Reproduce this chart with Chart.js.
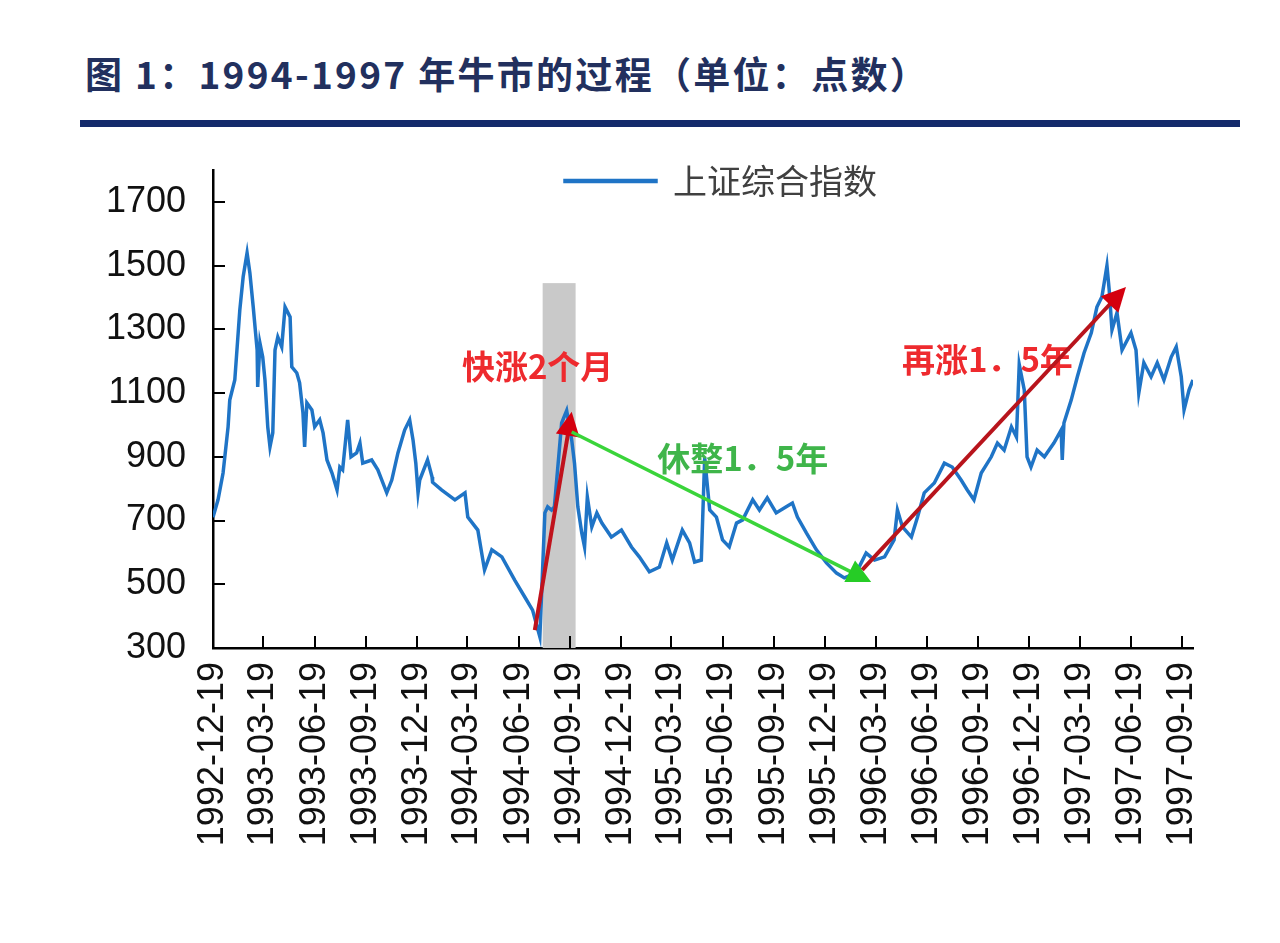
<!DOCTYPE html>
<html><head><meta charset="utf-8">
<script src="https://cdn.jsdelivr.net/npm/chart.js@4.4.1/dist/chart.umd.min.js"></script>
<style>
html,body{margin:0;padding:0;background:#fff;width:1280px;height:943px;overflow:hidden;}
#title{position:absolute;left:85px;top:55px;font-family:"Noto Sans CJK SC",sans-serif;font-weight:700;font-size:37px;letter-spacing:2.3px;color:#22305e;white-space:nowrap;line-height:1;}
#rule{position:absolute;left:80px;width:1160px;top:120px;height:7px;background:#142a6b;}
#wrap{position:absolute;left:0;top:116px;width:1280px;height:827px;}
</style></head><body>
<div id="title">图 1：1994-1997 年牛市的过程（单位：点数）</div>
<div id="rule"></div>
<div id="wrap"><canvas id="c"></canvas></div>
<script>
const seriesName = '上证综合指数';
const dates = ['1992-12-19','1992-12-28','1993-01-06','1993-01-15','1993-01-18','1993-01-27','1993-02-05','1993-02-11','1993-02-18','1993-02-23',
'1993-03-01','1993-03-08','1993-03-09','1993-03-13','1993-03-18','1993-03-22','1993-03-27','1993-03-31','1993-04-05','1993-04-09',
'1993-04-14','1993-04-21','1993-04-27','1993-05-06','1993-05-09','1993-05-18','1993-05-23','1993-05-29','1993-06-01','1993-06-05',
'1993-06-14','1993-06-19','1993-06-28','1993-07-04','1993-07-11','1993-07-20','1993-07-29','1993-08-03','1993-08-08','1993-08-17',
'1993-08-23','1993-09-02','1993-09-08','1993-09-13','1993-09-29','1993-10-10','1993-10-26','1993-11-04','1993-11-15','1993-11-27',
'1993-12-06','1993-12-12','1993-12-17','1993-12-21','1993-12-24','1994-01-07','1994-01-15','1994-01-16','1994-02-01','1994-02-25',
'1994-03-15','1994-03-20','1994-04-07','1994-04-19','1994-05-02','1994-05-20','1994-06-12','1994-06-30','1994-07-14','1994-07-27',
'1994-08-05','1994-08-10','1994-08-17','1994-08-22','1994-09-04','1994-09-13','1994-09-22','1994-09-27','1994-10-03','1994-10-10',
'1994-10-15','1994-10-20','1994-10-28','1994-11-06','1994-11-15','1994-12-02','1994-12-20','1995-01-07','1995-01-21','1995-02-08',
'1995-02-26','1995-03-11','1995-03-21','1995-04-08','1995-04-21','1995-04-30','1995-05-12','1995-05-18','1995-05-27','1995-06-08',
'1995-06-19','1995-07-01','1995-07-14','1995-07-25','1995-08-12','1995-08-24','1995-09-07','1995-09-23','1995-10-11','1995-10-22',
'1995-10-31','1995-11-16','1995-12-04','1995-12-22','1996-01-09','1996-01-23','1996-02-13','1996-03-02','1996-03-17','1996-04-04',
'1996-04-21','1996-04-27','1996-05-06','1996-05-22','1996-06-02','1996-06-14','1996-07-02','1996-07-20','1996-08-03','1996-08-19',
'1996-08-30','1996-09-11','1996-09-24','1996-10-12','1996-10-23','1996-11-04','1996-11-17','1996-11-26','1996-12-01','1996-12-10',
'1996-12-15','1996-12-22','1997-01-02','1997-01-15','1997-02-01','1997-02-14','1997-02-16','1997-02-19','1997-03-04','1997-03-15',
'1997-03-27','1997-04-09','1997-04-19','1997-04-28','1997-05-07','1997-05-11','1997-05-16','1997-05-25','1997-06-03','1997-06-19',
'1997-06-28','1997-07-03','1997-07-12','1997-07-25','1997-08-05','1997-08-17','1997-08-30','1997-09-08','1997-09-17','1997-09-22',
'1997-10-01','1997-10-08'];
const values = [710,765,849,994,1078,1141,1361,1465,1540,1477,
1370,1235,1119,1257,1213,1141,994,931,975,1235,
1276,1245,1370,1339,1182,1163,1132,1038,931,1069,
1047,994,1016,975,890,849,796,868,859,1016,
900,912,943,880,890,859,787,827,912,984,
1016,953,880,787,827,890,837,820,796,765,
787,711,670,545,608,586,513,460,419,335,
724,743,733,743,1006,1045,953,880,743,661,
617,774,680,724,692,648,670,617,586,539,
554,630,576,670,630,570,576,897,733,711,
639,617,692,702,765,733,771,724,743,755,
711,661,608,567,535,520,535,598,576,586,
639,733,680,648,711,787,818,880,868,827,
796,765,849,900,943,921,994,962,1190,1110,
900,868,921,900,943,984,890,1006,1078,1151,
1226,1289,1370,1402,1500,1424,1298,1352,1235,1289,
1235,1100,1195,1151,1195,1141,1213,1245,1151,1047,
1110,1141];
const xTickDates = ['1992-12-19','1993-03-19','1993-06-19','1993-09-19','1993-12-19','1994-03-19','1994-06-19','1994-09-19','1994-12-19','1995-03-19',
'1995-06-19','1995-09-19','1995-12-19','1996-03-19','1996-06-19','1996-09-19','1996-12-19','1997-03-19','1997-06-19','1997-09-19'];
const yTicks = [300,500,700,900,1100,1300,1500,1700];
const yRange = [300,1800];
const xRange = ['1992-12-19','1997-10-08'];
const bandDates = ['1994-08-01','1994-09-29'];
const bandTopValue = 1445;
const arrowStartDates = ['1994-07-18','1994-09-22','1996-02-24'];
const arrowStartValues = [356,978,545];
const arrowEndDates = ['1994-09-22','1996-03-11','1997-06-10'];
const arrowEndValues = [1041,507,1433];
const noteTexts = ['快涨2个月','休整1．5年','再涨1．5年'];
const noteDates = ['1994-07-23','1995-07-25','1996-10-05'];
const noteValues = [1182,896,1204];

const arrowStyles = [{shaft:'#c0121c',head:'#d4000f',w:4},{shaft:'#3ad43a',head:'#26cc26',w:3.5},{shaft:'#b8141c',head:'#d4000f',w:4}];
const noteColors = ['#ee2a2e','#3fb54a','#ee2a2e'];

const base = Date.UTC(1992,11,19);
function day(s){const p=s.split('-').map(Number);return (Date.UTC(p[0],p[1]-1,p[2])-base)/86400000;}

const points = dates.map((d,i)=>({x:day(d),y:values[i]}));

const decor = {
  id:'decor',
  afterLayout(chart){const l=chart.legend;if(l){l.left+=18;l.right+=18;l.top+=38;l.bottom+=38;}},
  beforeDatasetsDraw(chart){
    const {ctx,chartArea:a,scales:{x,y}}=chart;
    ctx.save();
    const x0=x.getPixelForValue(day(bandDates[0])),x1=x.getPixelForValue(day(bandDates[1]));
    const yt=y.getPixelForValue(bandTopValue);
    ctx.fillStyle='#c9c9c9';
    ctx.fillRect(x0,yt,x1-x0,a.bottom-yt);
    ctx.strokeStyle='#000';ctx.lineWidth=2;
    xTickDates.forEach((d,i)=>{if(i===0)return;const px=Math.round(x.getPixelForValue(day(d)));ctx.beginPath();ctx.moveTo(px,a.bottom);ctx.lineTo(px,a.bottom-12);ctx.stroke();});
    yTicks.forEach((v,i)=>{if(i===0)return;const py=Math.round(y.getPixelForValue(v));ctx.beginPath();ctx.moveTo(a.left,py);ctx.lineTo(a.left+12,py);ctx.stroke();});
    ctx.restore();
  },
  afterDatasetsDraw(chart){
    const {ctx,scales:{x,y}}=chart;
    ctx.save();
    ctx.font='bold 33px "Noto Sans CJK SC", sans-serif';
    ctx.textAlign='center';ctx.textBaseline='middle';
    noteTexts.forEach((t,i)=>{ctx.fillStyle=noteColors[i];ctx.fillText(t,x.getPixelForValue(day(noteDates[i])),y.getPixelForValue(noteValues[i]));});
    arrowStartDates.forEach((d,i)=>{
      const sx=x.getPixelForValue(day(d)),sy=y.getPixelForValue(arrowStartValues[i]);
      const tx=x.getPixelForValue(day(arrowEndDates[i])),ty=y.getPixelForValue(arrowEndValues[i]);
      const L=Math.hypot(tx-sx,ty-sy),ux=(tx-sx)/L,uy=(ty-sy)/L;
      const hl=24,hw=12,st=arrowStyles[i];
      ctx.strokeStyle=st.shaft;ctx.lineWidth=st.w;ctx.lineCap='butt';
      ctx.beginPath();ctx.moveTo(sx,sy);ctx.lineTo(tx-ux*hl*0.8,ty-uy*hl*0.8);ctx.stroke();
      const bx=tx-ux*hl,by=ty-uy*hl;
      ctx.fillStyle=st.head;ctx.beginPath();ctx.moveTo(tx,ty);ctx.lineTo(bx-uy*hw,by+ux*hw);ctx.lineTo(bx+uy*hw,by-ux*hw);ctx.closePath();ctx.fill();
    });
    ctx.restore();
  }
};

new Chart(document.getElementById('c'),{
  type:'line',
  data:{datasets:[{label:seriesName,data:points,borderColor:'#1f74c6',backgroundColor:'#1f74c6',borderWidth:3.5,pointRadius:0,tension:0,fill:false}]},
  options:{
    responsive:true,maintainAspectRatio:false,animation:false,events:[],
    layout:{padding:{left:73,right:87,top:0,bottom:0}},
    plugins:{
      legend:{display:true,position:'top',fullSize:false,align:'center',
        labels:{boxWidth:91,boxHeight:1,padding:10,color:'#404040',font:{family:'"Noto Sans CJK SC", sans-serif',size:34}}},
      tooltip:{enabled:false}
    },
    scales:{
      x:{type:'linear',min:day(xRange[0]),max:day(xRange[1]),
        grid:{display:false,drawTicks:false},
        border:{display:true,color:'#000',width:2.5},
        afterBuildTicks:s=>{s.ticks=xTickDates.map(d=>({value:day(d)}));},
        afterFit:s=>{s.height=295;},
        ticks:{autoSkip:false,minRotation:90,maxRotation:90,padding:14,color:'#111',
          font:{family:'"Liberation Sans", Arial, sans-serif',size:36},
          callback:(v,i)=>xTickDates[i]}},
      y:{type:'linear',min:yRange[0],max:yRange[1],
        grid:{display:false,drawTicks:false},
        border:{display:true,color:'#000',width:2.5},
        afterBuildTicks:s=>{s.ticks=yTicks.map(v=>({value:v}));},
        afterFit:s=>{s.width=140;},
        ticks:{padding:27,color:'#111',font:{family:'"Liberation Sans", Arial, sans-serif',size:36},callback:v=>String(v)}}
    }
  },
  plugins:[decor]
});
</script>
</body></html>
